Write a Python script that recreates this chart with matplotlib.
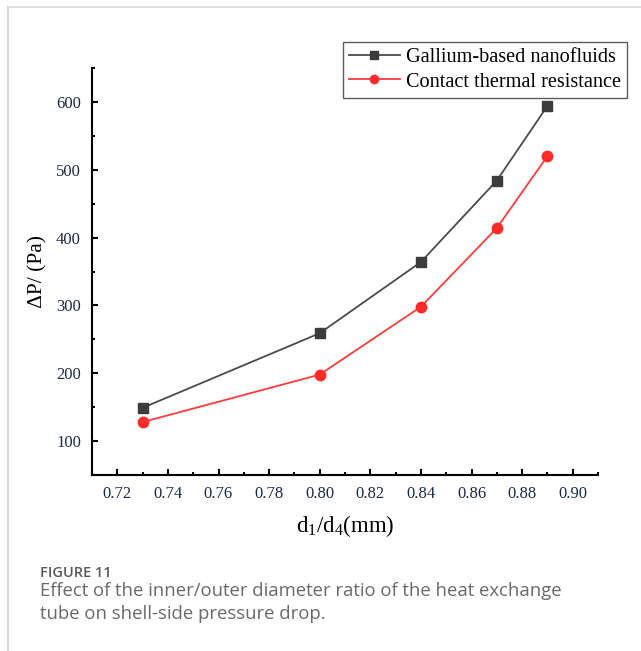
import numpy as np
import matplotlib
matplotlib.use('Agg')
import matplotlib.pyplot as plt
from matplotlib.lines import Line2D
from matplotlib.ticker import MultipleLocator

# data
ratio = [0.73, 0.80, 0.84, 0.87, 0.89]
dp_gallium = [149, 259, 364, 484, 594]
dp_contact = [128, 198, 298, 414, 520]
series_names = ['Gallium-based nanofluids', 'Contact thermal resistance']
caption_head = 'FIGURE 11'
caption_body = ('Effect of the inner/outer diameter ratio of the heat exchange\n'
                'tube on shell-side pressure drop.')

plt.rcParams['font.family'] = 'Liberation Serif'
plt.rcParams['mathtext.fontset'] = 'custom'
plt.rcParams['mathtext.rm'] = 'Liberation Serif'
plt.rcParams['mathtext.it'] = 'Liberation Serif:italic'

W, H = 641, 651
fig = plt.figure(figsize=(W / 100, H / 100), dpi=100)

# light frame lines (top and left) around the figure panel
fig.add_artist(Line2D([8 / W, 1], [1 - 7 / H, 1 - 7 / H], color='#d4d4d4', lw=1.2))
fig.add_artist(Line2D([8 / W, 8 / W], [0, 1 - 7 / H], color='#d4d4d4', lw=1.2))

ax = fig.add_axes([92 / W, 1 - 475 / H, (598 - 92) / W, (475 - 68) / H])

ax.plot(ratio, dp_gallium, '-s', color='#4a4a4a', mfc='#3c3c3c', mec='#3c3c3c',
        lw=1.3, ms=6.5, label=series_names[0])
ax.plot(ratio, dp_contact, '-o', color='#ff3b3b', mfc='#ff2a2a', mec='#ff2a2a',
        lw=1.3, ms=7.5, label=series_names[1])

ax.set_xlim(0.71, 0.91)
ax.set_ylim(50, 650)
ax.xaxis.set_major_locator(MultipleLocator(0.02))
ax.xaxis.set_minor_locator(MultipleLocator(0.01))
ax.yaxis.set_major_locator(MultipleLocator(100))
ax.yaxis.set_minor_locator(MultipleLocator(50))
ax.xaxis.set_major_formatter(plt.FormatStrFormatter('%.2f'))

for s in ('top', 'right'):
    ax.spines[s].set_visible(False)
for s in ('left', 'bottom'):
    ax.spines[s].set_linewidth(1.5)

ax.tick_params(which='major', direction='in', length=4.5, width=1.5, labelsize=12,
               labelcolor='#1a2a44', pad=8)
ax.tick_params(which='minor', direction='in', length=2.3, width=1.5)
ax.set_ylim(50, 650)
ax.set_yticks([100, 200, 300, 400, 500, 600])

ax.set_xlabel(r'$\mathregular{d_1/d_4}$(mm)', fontsize=16.5, labelpad=8)
ax.set_ylabel('ΔP/ (Pa)', fontsize=15.5, labelpad=6)

leg = ax.legend(loc='upper right', bbox_to_anchor=(627 / W, 1 - 42 / H),
                bbox_transform=fig.transFigure, fontsize=14.6, frameon=True,
                fancybox=False, edgecolor='#333333', borderpad=0.3,
                handlelength=2.5, handletextpad=0.3, labelspacing=0.25,
                borderaxespad=0, markerscale=0.8)
leg.get_frame().set_linewidth(1.0)

fig.text(40 / W, 1 - 573 / H, caption_head, fontsize=10.5, family='Open Sans',
         fontweight='semibold', color='#5a5a5a', va='center')
fig.text(40 / W, 1 - 582 / H, caption_body, fontsize=13.3, family='Open Sans',
         color='#6a6a6a', va='top', linespacing=1.38)

fig.savefig('out.png', dpi=100)
